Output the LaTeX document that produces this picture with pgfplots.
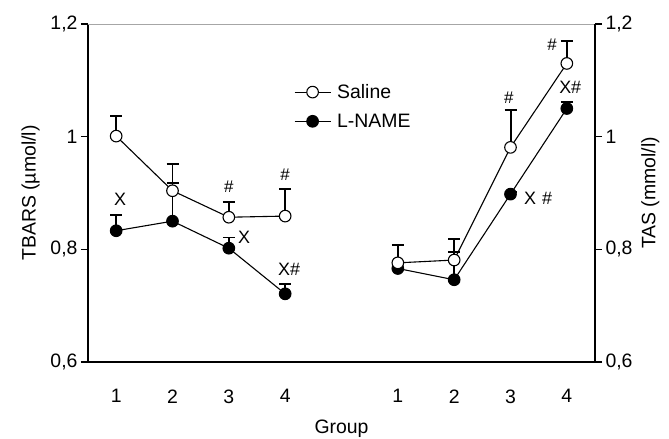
\documentclass[border=0pt]{standalone}
\usepackage{fontspec}
\setmainfont{Liberation Sans}
\usepackage{pgfplots}
\pgfplotsset{compat=1.18}
\pgfplotstableread{
x y e
1 0.833 0.028
2 0.850 0.068
3 0.802 0.019
4 0.721 0.018
5 nan 0
6 0.766 0.010
7 0.746 0.050
8 0.898 0.004
9 1.050 0.012
}\lname
\pgfplotstableread{
x y e
1 1.001 0.036
2 0.904 0.047
3 0.857 0.027
4 0.859 0.048
5 nan 0
6 0.776 0.032
7 0.781 0.037
8 0.981 0.066
9 1.130 0.040
}\saline
\begin{document}
\begin{tikzpicture}[font=\fontsize{19}{22}\selectfont]
\pgfplotsset{
  common/.style={
    scale only axis, width=507bp, height=338bp,
    xmin=0.5, xmax=9.5, ymin=0.6, ymax=1.2,
    ytick={0.6,0.8,1,1.2},
    tick align=outside, major tick length=7bp,
    y tick style={line width=1.2pt, black},
    axis line style={line width=1.2pt, black},
    /pgf/number format/use comma,
    /pgf/number format/assume math mode=true,
    tick label style={font=\fontsize{19.5}{22}\selectfont},
    label style={font=\fontsize{19.5}{22}\selectfont},
  }
}
\begin{axis}[common,
  axis x line*=bottom, axis y line*=left,
  xtick={1,2,3,4,6,7,8,9}, xticklabels={1,2,3,4,1,2,3,4},
  x tick style={draw=none},
  xticklabel style={yshift=-17bp},
  xlabel={Group},
  xlabel style={yshift=-10bp},
  ylabel={TBARS (µmol/l)},
  ylabel style={yshift=4bp},
  unbounded coords=jump,
  reverse legend,
  legend image code/.code={\draw[mark repeat=2,mark phase=2,#1] plot coordinates {(0bp,0bp) (18bp,0bp) (36bp,0bp)};},
  legend style={at={(rel axis cs:0.406,0.828)}, anchor=north west, draw=none, fill=none, row sep=10bp, inner sep=0pt, cells={anchor=west}, nodes={inner xsep=6bp}, font=\fontsize{19.5}{22}\selectfont},
]
\draw[gray!70, line width=0.8pt] (rel axis cs:0,1) -- (rel axis cs:1,1);
\addplot[black, line width=1.1pt, mark=*, mark size=5.8bp, mark options={fill=black, line width=1.1pt},
  error bars/.cd, y dir=plus, y explicit, error bar style={line width=2pt, black},
  error mark options={rotate=90, line width=2pt, mark size=6bp, black}]
  table[x=x, y=y, y error=e] {\lname};
\addlegendentry{L-NAME}
\addplot[black, line width=1.1pt, mark=*, mark size=5.8bp, mark options={fill=white, line width=1.1pt},
  error bars/.cd, y dir=plus, y explicit, error bar style={line width=2pt, black},
  error mark options={rotate=90, line width=2pt, mark size=6bp, black}]
  table[x=x, y=y, y error=e] {\saline};
\addlegendentry{Saline}
\node[font=\fontsize{18}{20}\selectfont] at (axis cs:1.07,0.888) {X};
\node[font=\fontsize{17}{20}\selectfont] at (axis cs:3.0,0.912) {\#};
\node[font=\fontsize{17}{20}\selectfont] at (axis cs:4.0,0.932) {\#};
\node[font=\fontsize{18}{20}\selectfont] at (axis cs:3.27,0.822) {X};
\node[font=\fontsize{18}{20}\selectfont] at (axis cs:4.07,0.765) {X\#};
\node[font=\fontsize{17}{20}\selectfont] at (axis cs:7.97,1.070) {\#};
\node[font=\fontsize{17}{20}\selectfont] at (axis cs:8.74,1.163) {\#};
\node[font=\fontsize{18}{20}\selectfont] at (axis cs:9.06,1.088) {X\#};
\node[font=\fontsize{18}{20}\selectfont] at (axis cs:8.49,0.891) {X\hspace{6bp}\#};
\end{axis}
\begin{axis}[common,
  axis y line*=right, axis x line=none,
  xtick=\empty,
  ylabel={TAS (mmol/l)},
  ylabel style={yshift=-2bp},
]
\end{axis}
\path (current axis.south west) ++(-88bp,-77bp) coordinate (A);
\path (current axis.north east) ++(74bp,24bp) coordinate (B);
\pgfresetboundingbox
\path[use as bounding box] (A) rectangle (B);
\end{tikzpicture}
\end{document}
